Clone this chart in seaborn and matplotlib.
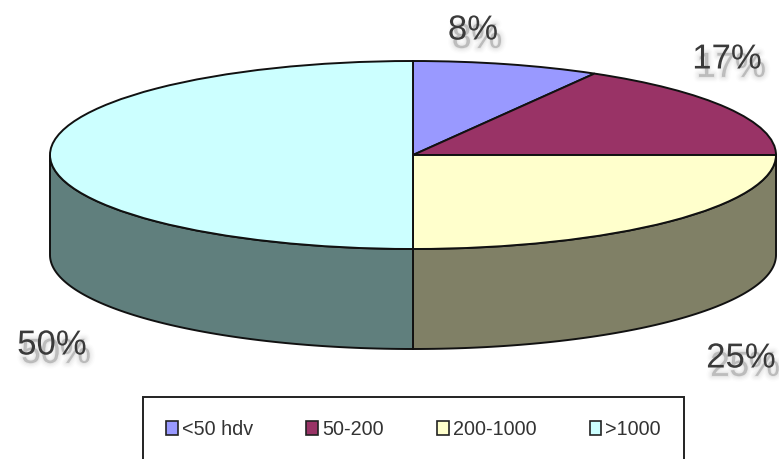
import numpy as np
import seaborn as sns
import matplotlib.pyplot as plt
import matplotlib.patheffects as pe
from matplotlib.patches import Patch

categories = ['<50 hdv', '50-200', '200-1000', '>1000']
shares = [8.33, 16.67, 25.0, 50.0]
pct_labels = ['8%', '17%', '25%', '50%']
top_colors = ['#9999FF', '#993366', '#FFFFCC', '#CCFFFF']
wall_colors = ['#4D4D80', '#4D1A33', '#808066', '#607F7D']

W, H = 779, 459
# ellipse in pixels
CX, CY, RX, RY, DEPTH = 413, 155, 363, 94, 100

sns.set_theme(style='white')
plt.rcParams['font.family'] = ['Liberation Sans', 'DejaVu Sans']

fig = plt.figure(figsize=(W / 100, H / 100), dpi=100)
ax = fig.add_axes([0, 0, 1, 1])

wedges, _ = ax.pie(shares, colors=sns.color_palette(top_colors), startangle=90,
                   counterclock=False, radius=1,
                   wedgeprops={'edgecolor': '#111111', 'linewidth': 1.4, 'zorder': 3})
ax.set_aspect('auto')
ax.set_xlim(-CX / RX, (W - CX) / RX)
ax.set_ylim((CY - H) / RY, CY / RY)
ax.axis('off')

# side walls, only the part of each slice on the front half shows
drop = DEPTH / RY
ends = 90 - np.cumsum([0] + shares) * 3.6
for a0, a1, col in zip(ends[:-1], ends[1:], wall_colors):
    lo, hi = max(a1, -180), min(a0, 0)
    if lo >= hi:
        continue
    t = np.radians(np.linspace(hi, lo, 80))
    x = np.cos(t)
    ax.fill(np.r_[x, x[::-1]], np.r_[np.sin(t), np.sin(t)[::-1] - drop],
            facecolor=col, edgecolor='#111111', linewidth=1.4, zorder=2)

# soft grey blur behind the labels, all in one text
blur = [pe.Stroke(offset=(3, -6), linewidth=w, foreground='#888888', alpha=a)
        for w, a in [(8, 0.025), (6, 0.035), (4, 0.05), (2, 0.07), (0.5, 0.1)]]

label_pos = [(473, 30), (727, 59), (741, 358), (52, 345)]
for s, (px, py) in zip(pct_labels, label_pos):
    txt = ax.text((px - CX) / RX, (CY - py) / RY, s, fontsize=25, color='#3A3A3A',
                  ha='center', va='center', zorder=5)
    txt.set_path_effects(blur + [pe.Normal()])

handles = [Patch(facecolor=c, edgecolor='#222222', linewidth=1.2) for c in top_colors]
leg = fig.legend(handles, categories, ncols=4, loc='upper left',
                 bbox_to_anchor=(143 / W, 1 - 397 / H), bbox_transform=fig.transFigure,
                 fontsize=14.2, frameon=True, fancybox=False, edgecolor='#222222',
                 framealpha=1, handlelength=0.6, handleheight=0.75, handletextpad=0.2,
                 columnspacing=2.7, borderaxespad=0, borderpad=1.17, labelcolor='#333333')
leg.get_frame().set_linewidth(1.4)

fig.savefig('out.png', dpi=100)
